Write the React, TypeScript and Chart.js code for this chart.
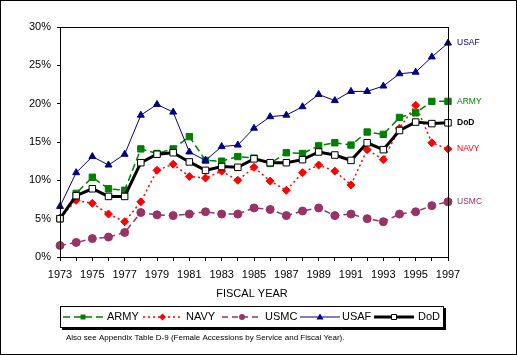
import React, { useEffect, useRef } from 'react';
import { Chart, registerables } from 'chart.js';
Chart.register(...registerables);

const years = ['1973','1974','1975','1976','1977','1978','1979','1980','1981','1982','1983','1984','1985','1986','1987','1988','1989','1990','1991','1992','1993','1994','1995','1996','1997'];
const army = [5.0, 8.3, 10.4, 8.9, 8.7, 14.1, 13.5, 14.1, 15.7, 12.6, 12.5, 13.1, 12.9, 12.2, 13.6, 13.5, 14.5, 14.9, 14.6, 16.3, 16.0, 18.2, 18.8, 20.3, 20.3];
const navy = [5.1, 7.4, 7.0, 5.6, 4.6, 7.2, 11.3, 12.1, 10.5, 10.3, 11.2, 10.0, 11.7, 9.9, 8.7, 11.0, 12.0, 11.2, 9.4, 14.0, 12.7, 16.8, 19.8, 14.9, 14.1];
const usmc = [1.5, 1.9, 2.4, 2.6, 3.2, 5.8, 5.5, 5.4, 5.6, 5.9, 5.6, 5.6, 6.4, 6.2, 5.4, 6.0, 6.4, 5.4, 5.6, 5.0, 4.6, 5.6, 5.9, 6.7, 7.2];
const usaf = [6.6, 11.0, 13.1, 12.0, 13.4, 18.5, 19.9, 18.9, 13.7, 12.6, 14.4, 14.6, 16.8, 18.3, 18.5, 19.6, 21.2, 20.4, 21.6, 21.6, 22.3, 23.9, 24.1, 26.1, 27.9];
const dod = [5.0, 8.0, 8.9, 7.9, 7.9, 12.3, 13.4, 13.6, 12.4, 11.3, 11.8, 11.7, 12.8, 12.3, 12.3, 12.7, 13.7, 13.3, 12.6, 14.9, 14.0, 16.5, 17.6, 17.4, 17.5];
const seriesNames = ['ARMY', 'NAVY', 'USMC', 'USAF', 'DoD'];
const yTicks = [0, 5, 10, 15, 20, 25, 30];
const xTitle = 'FISCAL YEAR';
const footnote = 'Also see Appendix Table D-9 (Female Accessions by Service and Fiscal Year).';

const FONT = '"Liberation Sans", Arial, sans-serif';
const colors = ['#008000', '#FF0000', '#993366', '#000080', '#000000'];
const dashes = [[7, 4], [2, 3], [6, 4], [], []];
const widths = [1.5, 1.5, 1.5, 1, 3];

function drawMarker(ctx: CanvasRenderingContext2D, kind: number, x: number, y: number, s: number) {
  ctx.save();
  ctx.setLineDash([]);
  ctx.fillStyle = colors[kind];
  ctx.strokeStyle = colors[kind];
  ctx.lineWidth = 1;
  ctx.beginPath();
  if (kind === 0) {
    ctx.rect(x - s, y - s, 2 * s, 2 * s);
    ctx.fill();
  } else if (kind === 1) {
    ctx.moveTo(x, y - s - 1); ctx.lineTo(x + s + 1, y); ctx.lineTo(x, y + s + 1); ctx.lineTo(x - s - 1, y); ctx.closePath();
    ctx.fill();
  } else if (kind === 2) {
    ctx.arc(x, y, s + 0.5, 0, Math.PI * 2);
    ctx.fill();
  } else if (kind === 3) {
    ctx.moveTo(x, y - s - 1); ctx.lineTo(x + s + 1, y + s); ctx.lineTo(x - s - 1, y + s); ctx.closePath();
    ctx.fill();
  } else {
    ctx.fillStyle = '#fff';
    ctx.rect(x - s + 0.5, y - s + 0.5, 2 * s - 1, 2 * s - 1);
    ctx.fill();
    ctx.stroke();
  }
  ctx.restore();
}

const decorPlugin = {
  id: 'decor',
  afterDatasetsDraw(chart: any) {
    const ctx: CanvasRenderingContext2D = chart.ctx;
    const a = chart.chartArea;
    ctx.save();
    ctx.strokeStyle = '#000';
    ctx.lineWidth = 1;
    ctx.setLineDash([]);
    ctx.strokeRect(Math.round(a.left) + 0.5, Math.round(a.top) + 0.5, Math.round(a.right - a.left), Math.round(a.bottom - a.top));
    // right labels
    chart.data.datasets.forEach((ds: any, i: number) => {
      const meta = chart.getDatasetMeta(i);
      const pt = meta.data[meta.data.length - 1];
      ctx.font = (ds.label === 'DoD' ? 'bold ' : '') + '8.5px ' + FONT;
      ctx.fillStyle = colors[seriesNames.indexOf(ds.label)];
      ctx.textBaseline = 'middle';
      ctx.textAlign = 'left';
      ctx.fillText(ds.label, pt.x + 9, pt.y);
    });
    // x title
    ctx.fillStyle = '#000';
    ctx.font = '11px ' + FONT;
    ctx.textAlign = 'center';
    ctx.textBaseline = 'middle';
    ctx.fillText(xTitle, (a.left + a.right) / 2 - 2, 294);
    // legend box
    const lx = 60, ly = 306, lw = 383, lh = 21;
    ctx.fillStyle = '#000';
    ctx.fillRect(lx + 2, ly + 2, lw + 1, lh + 1);
    ctx.fillStyle = '#fff';
    ctx.fillRect(lx, ly, lw, lh);
    ctx.strokeStyle = '#000';
    ctx.strokeRect(lx + 0.5, ly + 0.5, lw, lh);
    const items = [[63, 103, 107], [143, 182, 186], [222, 262, 265], [300, 340, 342], [374, 414, 418]];
    const cy = ly + 11;
    items.forEach((it, i) => {
      ctx.save();
      ctx.strokeStyle = colors[i];
      ctx.lineWidth = widths[i];
      ctx.setLineDash(dashes[i]);
      ctx.beginPath();
      ctx.moveTo(it[0], cy);
      ctx.lineTo(it[1], cy);
      ctx.stroke();
      ctx.restore();
      drawMarker(ctx, i, (it[0] + it[1]) / 2, cy, i === 4 ? 3 : 2.5);
      ctx.fillStyle = '#000';
      ctx.font = '11px ' + FONT;
      ctx.textAlign = 'left';
      ctx.textBaseline = 'middle';
      ctx.fillText(seriesNames[i], it[2], cy);
    });
    // footnote
    ctx.font = '8px ' + FONT;
    ctx.fillStyle = '#000';
    ctx.textAlign = 'left';
    ctx.textBaseline = 'middle';
    ctx.fillText(footnote, 66, 338);
    // outer border
    ctx.strokeRect(0.5, 0.5, chart.width - 1, chart.height - 1);
    ctx.restore();
  },
};

export default function App() {
  const ref = useRef<HTMLCanvasElement>(null);
  useEffect(() => {
    document.body.style.margin = '0';
    const mk = (label: string, data: number[], i: number, style: string, r: number, order: number) => ({
      label, data, order,
      borderColor: colors[i],
      backgroundColor: i === 4 ? '#fff' : colors[i],
      borderWidth: widths[i],
      borderDash: dashes[i],
      pointStyle: style,
      pointRadius: r,
      pointBorderWidth: 1,
      pointBorderColor: colors[i],
      pointBackgroundColor: i === 4 ? '#fff' : colors[i],
      tension: 0,
      fill: false,
    });
    const chart = new Chart(ref.current!, {
      type: 'line',
      data: {
        labels: years,
        datasets: [
          mk('USAF', usaf, 3, 'triangle', 4, 1),
          mk('ARMY', army, 0, 'rect', 4.5, 2),
          mk('DoD', dod, 4, 'rect', 4.6, 0),
          mk('NAVY', navy, 1, 'rectRot', 4, 3),
          mk('USMC', usmc, 2, 'circle', 4, 4),
        ],
      },
      options: {
        responsive: false,
        animation: false,
        layout: { padding: { top: 27, right: 69, left: 0, bottom: 0 } },
        plugins: { legend: { display: false }, tooltip: { enabled: false } },
        scales: {
          x: {
            type: 'category',
            offset: false,
            afterFit: (s: any) => { s.height = 98; },
            grid: { drawOnChartArea: false, drawTicks: true, tickLength: 4, color: '#000' },
            border: { display: true, color: '#000' },
            ticks: {
              autoSkip: false, maxRotation: 0, padding: 7, color: '#000',
              font: { family: FONT, size: 11 },
              callback: (_v: any, idx: number) => (idx % 2 === 0 ? years[idx] : ''),
            },
          },
          y: {
            min: 0, max: 30,
            afterFit: (s: any) => { s.width = 60; },
            afterBuildTicks: (s: any) => { s.ticks = yTicks.map((v) => ({ value: v })); },
            grid: { drawOnChartArea: false, drawTicks: true, tickLength: 3, color: '#000' },
            border: { display: true, color: '#000' },
            ticks: {
              padding: 6, color: '#000',
              font: { family: FONT, size: 11 },
              callback: (v: any) => v + '%',
            },
          },
        },
      },
      plugins: [decorPlugin],
    } as any);
    return () => chart.destroy();
  }, []);
  return <canvas ref={ref} width={517} height={355} style={{ display: 'block' }} />;
}
